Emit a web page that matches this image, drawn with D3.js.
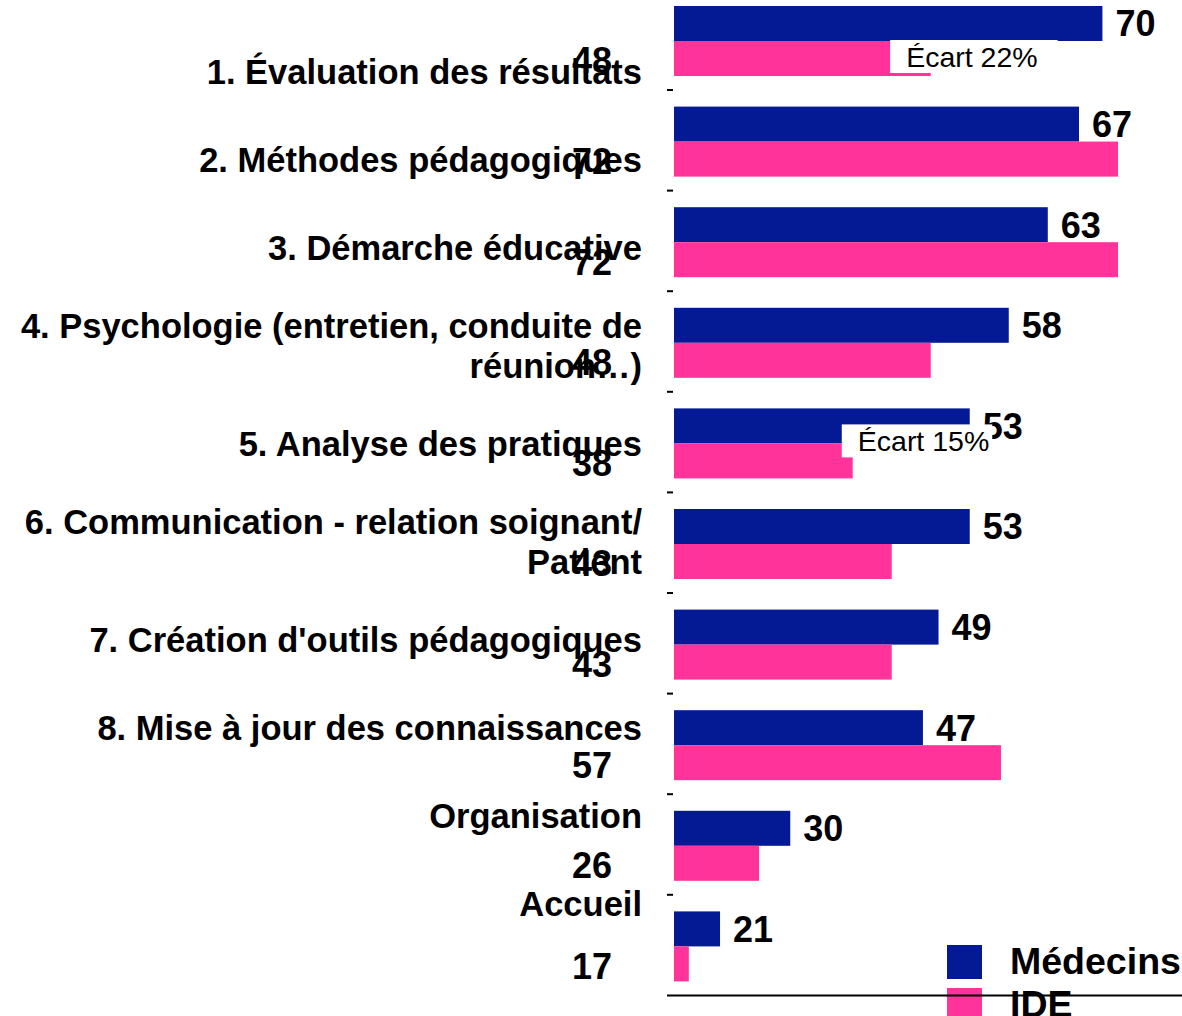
<!DOCTYPE html>
<html>
<head>
<meta charset="utf-8">
<script src="https://cdn.jsdelivr.net/npm/d3@7"></script>
<style>
  body { margin: 0; background: #fff; overflow: hidden; }
  text { font-family: "Liberation Sans", Arial, sans-serif; }
</style>
</head>
<body>
<script>
// chart values
var categories = [
  "1. Évaluation des résultats",
  "2. Méthodes pédagogiques",
  "3. Démarche éducative",
  "4. Psychologie (entretien, conduite de\nréunion…)",
  "5. Analyse des pratiques",
  "6. Communication - relation soignant/\nPatient",
  "7. Création d'outils pédagogiques",
  "8. Mise à jour des connaissances",
  "Organisation",
  "Accueil"
];
var medecins = [70, 67, 63, 58, 53, 53, 49, 47, 30, 21];
var ide = [48, 72, 72, 48, 38, 43, 43, 57, 26, 17];
var seriesNames = ["Médecins", "IDE"];
var seriesColors = ["#031A94", "#FF3399"];
var ecartLabels = ["Écart 22%", "Écart 15%"];
var ecartCategories = [0, 4];

var width = 1182, height = 1016;

var svg = d3.select("body").append("svg")
    .attr("width", width)
    .attr("height", height);

// x scale: the value axis does not start at zero
var x = d3.scaleLinear()
    .domain([15.1, 80.2])
    .range([674, 1182]);

// one band per category, two sub bands for the series
var y = d3.scaleBand()
    .domain(d3.range(categories.length))
    .range([-10.6, 995.4]);

var sub = d3.scaleBand()
    .domain(seriesNames)
    .range([16.6, 86.6]);

var rows = categories.map(function(c, i) {
  return {i: i, label: c, values: [medecins[i], ide[i]]};
});

// bars
var groups = svg.selectAll("g.row")
    .data(rows)
    .enter()
    .append("g")
    .attr("class", "row")
    .attr("transform", function(d) { return "translate(0," + y(d.i) + ")"; });

groups.selectAll("rect")
    .data(function(d) { return d.values.map(function(v, k) { return {v: v, s: seriesNames[k], k: k}; }); })
    .enter()
    .append("rect")
    .attr("x", x.range()[0])
    .attr("y", function(d) { return sub(d.s); })
    .attr("width", function(d) { return x(d.v) - x.range()[0]; })
    .attr("height", sub.bandwidth())
    .style("fill", function(d) { return seriesColors[d.k]; });

// médecins value labels at the end of the bars
groups.append("text")
    .attr("x", function(d) { return x(d.values[0]) + 13; })
    .attr("y", sub("Médecins") + sub.bandwidth() / 2)
    .attr("dy", "0.36em")
    .style("font-size", "36px")
    .style("font-weight", "bold")
    .text(function(d) { return d.values[0]; });

// IDE value labels, left of the axis
groups.append("text")
    .attr("x", 612)
    .attr("y", sub("IDE") + sub.bandwidth() / 2 + 2)
    .attr("dy", "0.36em")
    .attr("text-anchor", "end")
    .style("font-size", "36px")
    .style("font-weight", "bold")
    .text(function(d) { return d.values[1]; });

// ecart annotations (white boxes over the bars)
var ecarts = [
  {text: ecartLabels[0], cat: ecartCategories[0], at: 42.8, top: sub("IDE") - 1, pad: 36},
  {text: ecartLabels[1], cat: ecartCategories[1], at: 36.6, top: sub("Médecins") + 16, pad: 19}
];
ecarts.forEach(function(e) {
  var g = svg.append("g")
      .attr("transform", "translate(" + x(e.at) + "," + (y(e.cat) + e.top) + ")");
  var rect = g.append("rect").attr("height", 33).style("fill", "#fff");
  var t = g.append("text")
      .attr("x", 16)
      .attr("y", 27)
      .style("font-size", "28.5px")
      .text(e.text);
  rect.attr("width", t.node().getComputedTextLength() + e.pad);
});

// category labels, stacked one under the other
var lineHeight = 40;
var labelTop = 28;
rows.forEach(function(d) {
  var lines = d.label.split("\n");
  var block = 88 + 20 * (lines.length - 1);
  var center = labelTop + block / 2;
  var t = svg.append("text")
      .attr("text-anchor", "end")
      .style("font-size", "34.5px")
      .style("font-weight", "bold");
  lines.forEach(function(line, j) {
    t.append("tspan")
        .attr("x", 642)
        .attr("y", center + (j - (lines.length - 1) / 2) * lineHeight)
        .attr("dy", "0.36em")
        .text(line);
  });
  labelTop += block;
});

// small ticks between categories
svg.selectAll("line.tick")
    .data(d3.range(1, categories.length))
    .enter()
    .append("line")
    .attr("class", "tick")
    .attr("x1", 667)
    .attr("x2", 673)
    .attr("y1", function(i) { return y(i); })
    .attr("y2", function(i) { return y(i); })
    .style("stroke", "#000")
    .style("stroke-width", 2);

// legend
var legend = svg.selectAll("g.legend")
    .data(seriesNames)
    .enter()
    .append("g")
    .attr("class", "legend")
    .attr("transform", function(d, k) { return "translate(947," + (945 + k * 43) + ")"; });

legend.append("rect")
    .attr("width", 35)
    .attr("height", 34)
    .style("fill", function(d, k) { return seriesColors[k]; });

legend.append("text")
    .attr("x", 63)
    .attr("y", 29)
    .style("font-size", "37.5px")
    .style("font-weight", "bold")
    .text(function(d) { return d; });

// bottom axis line, drawn over the legend
svg.append("line")
    .attr("x1", 667)
    .attr("x2", width)
    .attr("y1", y.range()[1])
    .attr("y2", y.range()[1])
    .style("stroke", "#000")
    .style("stroke-width", 2);
</script>
</body>
</html>
